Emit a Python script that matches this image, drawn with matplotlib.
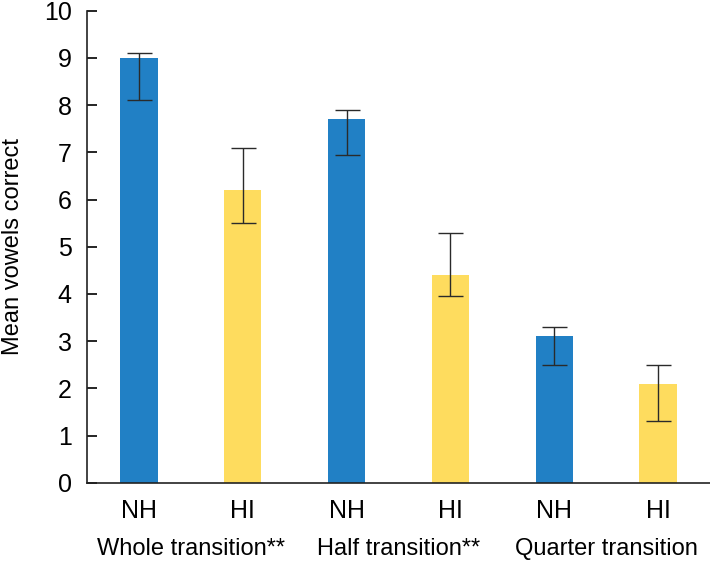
import numpy as np
import matplotlib.pyplot as plt

groups = ["NH", "HI", "NH", "HI", "NH", "HI"]
conditions = ["Whole transition**", "Half transition**", "Quarter transition"]
means = [9.0, 6.2, 7.7, 4.4, 3.1, 2.1]
err_low = [8.1, 5.5, 6.95, 3.95, 2.5, 1.3]
err_high = [9.1, 7.1, 7.9, 5.3, 3.3, 2.5]
colors = ["#2180c5", "#fedc5e"] * 3

plt.rcParams['font.family'] = ['Liberation Sans', 'DejaVu Sans']

fig = plt.figure(figsize=(7.1, 5.62), dpi=100)
ax = fig.add_axes([87 / 710, (562 - 482.7) / 562, 1 - 87 / 710, 472 / 562])

x = np.arange(len(means))
m = np.array(means)
yerr = [m - np.array(err_low), np.array(err_high) - m]
ax.bar(x, means, width=0.36, color=colors)
ax.errorbar(x, means, yerr=yerr, fmt="none", ecolor="#2a2a2a",
            elinewidth=1, capsize=9, capthick=1)

ax.set_xlim(-0.5, 5.5)
ax.set_ylim(0, 10)
ax.set_yticks(range(11))
ax.set_xticks(x)
ax.set_xticklabels(groups, fontsize=18)
ax.tick_params(axis="y", direction="in", length=7, width=1.2, labelsize=18, pad=11)
ax.tick_params(axis="x", length=0, pad=12)
for s in ["top", "right"]:
    ax.spines[s].set_visible(False)
for s in ["left", "bottom"]:
    ax.spines[s].set_linewidth(1.2)
    ax.spines[s].set_color("#222222")
ax.set_ylabel("Mean vowels correct", fontsize=17, labelpad=14)

for i, c in enumerate(conditions):
    ax.text(2 * i + 0.5, -0.14, c, transform=ax.get_xaxis_transform(),
            ha="center", va="center", fontsize=17)

plt.savefig("out.png", dpi=100)
